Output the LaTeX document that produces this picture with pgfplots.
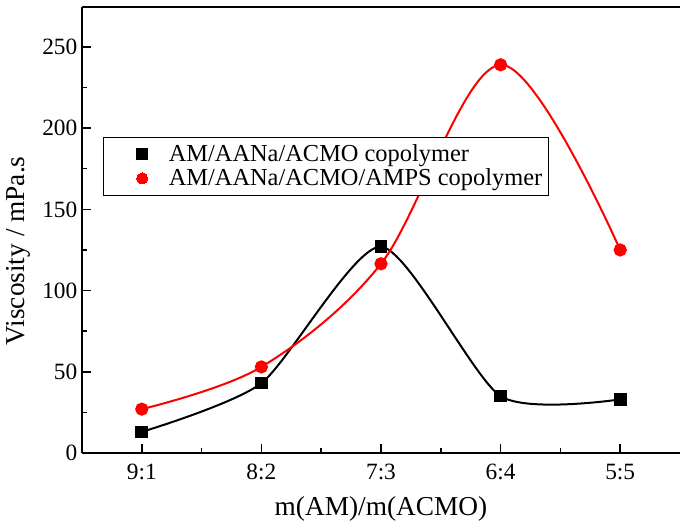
\documentclass[border=0pt]{standalone}
\usepackage{pgfplots}
\pgfplotsset{compat=1.18}
\usepackage{fontspec}
\setmainfont{Liberation Serif}
\begin{document}
\begin{tikzpicture}
\useasboundingbox (-61.5pt,-52.5pt) rectangle (448.5pt,339.75pt);
\begin{axis}[
  at={(0,0)}, anchor=south west,
  scale only axis,
  width=448.5pt, height=334.5pt,
  xmin=-0.5, xmax=4.5, ymin=0, ymax=274.6,
  axis x line*=bottom, axis y line*=left,
  axis line style={line width=1.2pt},
  xtick={0,1,2,3,4},
  xticklabels={9:1,8:2,7:3,6:4,5:5},
  minor xtick={0.5,1.5,2.5,3.5},
  ytick={0,50,100,150,200,250},
  minor ytick={25,75,125,175,225},
  tick align=inside,
  major tick length=7pt, minor tick length=4pt,
  tick style={line width=1.1pt, black},
  ticklabel style={font=\fontsize{17.5}{20}\selectfont},
  xticklabel style={yshift=-5pt},
  /pgf/number format/assume math mode=true,
  xlabel={m(AM)/m(ACMO)},
  ylabel={Viscosity / mPa.s},
  label style={font=\fontsize{20.5}{24}\selectfont},
  xlabel style={yshift=-5pt},
  ylabel style={at={(ticklabel cs:0.453)}, yshift=2pt},
  clip=false,
  legend style={at={(0.035,0.709)}, anchor=north west, draw=black, line width=0.8pt, fill=white,
    font=\fontsize{18.3}{22}\selectfont, row sep=0pt, inner xsep=3pt, inner ysep=3.5pt,
    cells={anchor=west}},
  legend image code/.code={\path[draw=none,fill=none] (0,0) -- (44pt,0); \draw[#1,line width=0pt] plot coordinates {(26pt,0cm)};},
]
\addplot[black, line width=1.5pt, smooth, tension=0.4, mark=square*, mark size=4pt, mark options={solid, fill=black}]
  coordinates {(0,13) (1,43) (2,127) (3,35) (4,33)};
\addlegendentry{AM/AANa/ACMO copolymer}
\addplot[red, line width=1.5pt, smooth, tension=0.55, mark=*, mark size=4.2pt, mark options={solid, fill=red}]
  coordinates {(0,27) (1,53) (2,116.5) (3,239) (4,125)};
\addlegendentry{AM/AANa/ACMO/AMPS copolymer}
\draw[line width=1.2pt] (rel axis cs:0,1) -- (rel axis cs:1,1);
\end{axis}
\end{tikzpicture}
\end{document}
